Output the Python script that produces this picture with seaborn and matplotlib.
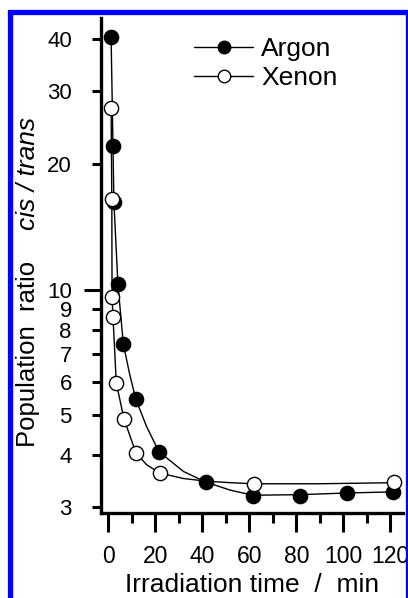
import matplotlib
matplotlib.use("Agg")
from matplotlib import pyplot as plt
from matplotlib.lines import Line2D
import matplotlib.patches as mpatches
import matplotlib.ticker as mticker
import seaborn as sns
import pandas as pd

# measured points
argon_t = [1.2, 2.0, 2.4, 4.1, 6.4, 11.7, 21.6, 41.6, 61.6, 81.6, 101.6, 121.1]
argon_r = [40.5, 22.1, 16.2, 10.3, 7.4, 5.45, 4.07, 3.44, 3.19, 3.19, 3.24, 3.25]
xenon_t = [1.2, 1.5, 1.6, 2.0, 3.4, 6.7, 11.8, 21.8, 61.8, 121.4]
xenon_r = [27.3, 16.5, 9.6, 8.6, 5.96, 4.88, 4.04, 3.62, 3.41, 3.44]

# fitted curves
argon_fit_t = [1.2, 2.0, 2.4, 4.1, 6.4, 9.0, 11.7, 16.3, 21.6, 32.0, 41.6,
               52.0, 61.6, 81.6, 101.6, 121.1]
argon_fit_r = [40.5, 22.1, 16.2, 10.3, 7.4, 6.29, 5.45, 4.68, 4.07, 3.65,
               3.44, 3.29, 3.20, 3.21, 3.24, 3.26]
xenon_fit_t = [1.2, 1.5, 1.6, 2.0, 3.4, 6.7, 11.8, 16.3, 21.8, 32.0, 41.6,
               52.0, 61.8, 90.0, 121.4]
xenon_fit_r = [27.3, 16.5, 9.6, 8.6, 5.96, 4.88, 4.04, 3.79, 3.62, 3.51,
               3.46, 3.43, 3.41, 3.41, 3.43]

x_major = [0, 20, 40, 60, 80, 100, 120]
x_minor = [10, 30, 50, 70, 90, 110]
y_labels = [3, 4, 5, 6, 7, 8, 9, 20, 30, 40]

sns.set_style("ticks")
plt.rcParams["font.family"] = ["Liberation Sans", "DejaVu Sans"]
for key in ["text.color", "axes.labelcolor", "xtick.color", "ytick.color"]:
    plt.rcParams[key] = "black"

W, H = 408, 598
fig = plt.figure(figsize=(W / 100, H / 100), dpi=100)
ax = fig.add_axes([101 / W, 1 - 513 / H, (403 - 101) / W, (513 - 18) / H])

for t, r in [(argon_fit_t, argon_fit_r), (xenon_fit_t, xenon_fit_r)]:
    sns.lineplot(x=t, y=r, sort=False, estimator=None, color="black",
                 lw=1.0, ax=ax)

ar = pd.DataFrame({"t": argon_t, "r": argon_r})
xe = pd.DataFrame({"t": xenon_t, "r": xenon_r})
sns.scatterplot(data=ar, x="t", y="r", s=105, color="black",
                edgecolor="black", linewidth=1.0, ax=ax, zorder=3)
sns.scatterplot(data=xe, x="t", y="r", s=105, color="white",
                edgecolor="black", linewidth=1.0, ax=ax, zorder=4)

ax.set_yscale("log")
ax.set_xlim(-3.1, 125.4)
ax.set_ylim(2.90, 45)
ax.set_xlabel("")
ax.set_ylabel("")

ax.xaxis.set_major_locator(mticker.FixedLocator(x_major))
ax.xaxis.set_minor_locator(mticker.FixedLocator(x_minor))
ax.xaxis.set_major_formatter(mticker.FixedFormatter([str(v) for v in x_major]))
ax.yaxis.set_major_locator(mticker.FixedLocator([10]))
ax.yaxis.set_major_formatter(mticker.FixedFormatter(["10"]))
ax.yaxis.set_minor_locator(mticker.FixedLocator(y_labels))
ax.yaxis.set_minor_formatter(mticker.FixedFormatter([str(v) for v in y_labels]))

ax.tick_params(axis="x", which="major", length=14, width=2.2, pad=9,
               labelsize=16.5, direction="out", color="black")
ax.tick_params(axis="x", which="minor", length=7, width=2.2, direction="out",
               color="black")
ax.tick_params(axis="y", which="major", length=12.5, width=2.2, pad=8,
               labelsize=16, direction="out", color="black")
ax.tick_params(axis="y", which="minor", length=6.5, width=2.2, pad=14.5,
               labelsize=16, direction="out", color="black")

sns.despine(ax=ax)
for side in ["left", "bottom"]:
    ax.spines[side].set_linewidth(2.4)
    ax.spines[side].set_color("black")

# legend
handles = [
    Line2D([], [], color="black", lw=1.0, marker="o", markersize=9,
           markerfacecolor="black", markeredgecolor="black"),
    Line2D([], [], color="black", lw=1.0, marker="o", markersize=9,
           markerfacecolor="white", markeredgecolor="black"),
]
fig.legend(handles, ["Argon", "Xenon"], loc="upper left",
           bbox_to_anchor=(194 / W, 1 - 37 / H), frameon=False,
           fontsize=19, handlelength=2.25, handletextpad=0.3,
           labelspacing=0.2, borderpad=0, borderaxespad=0)

# axis titles
fig.text(252 / W, 6 / H, "Irradiation time  /  min", fontsize=19,
         ha="center", va="baseline")
fig.text(35 / W, 1 - 447 / H, "Population  ratio", fontsize=18.5,
         rotation=90, rotation_mode="anchor", ha="left", va="baseline")
fig.text(35 / W, 1 - 230 / H, "cis / trans", fontsize=19, style="italic",
         rotation=90, rotation_mode="anchor", ha="left", va="baseline")

# blue frame
frame = mpatches.Rectangle((9.5 / W, -20 / H), (407.5 - 9.5) / W,
                           (H - 12 + 20) / H, transform=fig.transFigure,
                           fill=False, edgecolor="#0000ff", lw=3.8,
                           clip_on=False)
fig.patches.append(frame)

fig.savefig("out.png", dpi=100)
